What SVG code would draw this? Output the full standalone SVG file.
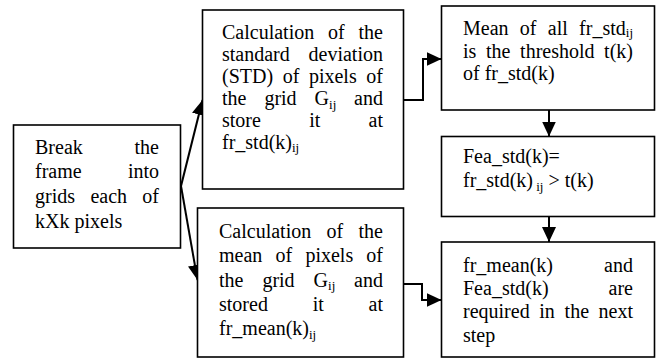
<svg xmlns="http://www.w3.org/2000/svg" width="657" height="359" viewBox="0 0 657 359">
<style>
.box{fill:#fff;stroke:#000;stroke-width:1.6}
text{font-family:'Liberation Serif','Times New Roman',Times,serif;font-size:20px;fill:#000}
.e{text-anchor:end}
.sub{font-size:13px}
.c{fill:none;stroke:#000;stroke-width:2;marker-end:url(#ah)}
</style>
<defs>
<marker id="ah" markerUnits="userSpaceOnUse" markerWidth="17" markerHeight="16" refX="15" refY="7" orient="auto">
<path d="M0,0 L15,7 L0,14 z" fill="#000"/>
</marker>
</defs>
<rect width="657" height="359" fill="#fff"/>
<g id="connectors">
<path class="c" d="M181,186 L202.5,100"/>
<path class="c" d="M181,186 L197.5,280"/>
<path class="c" d="M403.5,100 H423 V59 H441.5"/>
<path class="c" d="M403.5,284 H422 V300 H441.5"/>
<path class="c" d="M549,110 V136.5"/>
<path class="c" d="M549,216.5 V242"/>
</g>
<g id="n1">
<rect class="box" x="13.5" y="125" width="167" height="123"/>
<text x="35" y="153.5">Break</text><text class="e" x="159" y="153.5">the</text>
<text x="35" y="178.3">frame</text><text class="e" x="159" y="178.3">into</text>
<text x="35" y="203.1">grids</text><text x="90.4" y="203.1">each</text><text class="e" x="159" y="203.1">of</text>
<text x="35" y="227.9">kXk pixels</text>
</g>
<g id="n2">
<rect class="box" x="202.5" y="10" width="201" height="179"/>
<text x="222" y="39.3">Calculation</text><text x="328" y="39.3">of</text><text class="e" x="383" y="39.3">the</text>
<text x="222" y="61.2">standard</text><text class="e" x="383" y="61.2">deviation</text>
<text x="222" y="83.1">(STD)</text><text x="282.7" y="83.1">of</text><text x="308.9" y="83.1">pixels</text><text class="e" x="383" y="83.1">of</text>
<text x="222" y="105">the</text><text x="264.4" y="105">grid</text><text x="314.6" y="105">G<tspan class="sub" dy="3.5">ij</tspan></text><text class="e" x="383" y="105">and</text>
<text x="222" y="126.9">store</text><text x="309.2" y="126.9">it</text><text class="e" x="383" y="126.9">at</text>
<text x="222" y="148.8">fr_std(k)<tspan class="sub" dy="3.5">ij</tspan></text>
</g>
<g id="n3">
<rect class="box" x="197.5" y="208" width="206" height="149"/>
<text x="219" y="238">Calculation</text><text x="326.5" y="238">of</text><text class="e" x="383" y="238">the</text>
<text x="219" y="262.3">mean</text><text x="275.5" y="262.3">of</text><text x="305.4" y="262.3">pixels</text><text class="e" x="383" y="262.3">of</text>
<text x="219" y="286.6">the</text><text x="262.4" y="286.6">grid</text><text x="313.6" y="286.6">G<tspan class="sub" dy="3.5">ij</tspan></text><text class="e" x="383" y="286.6">and</text>
<text x="219" y="310.9">stored</text><text x="312.7" y="310.9">it</text><text class="e" x="383" y="310.9">at</text>
<text x="219" y="335.2">fr_mean(k)<tspan class="sub" dy="3.5">ij</tspan></text>
</g>
<g id="n4">
<rect class="box" x="441.5" y="6" width="213" height="104"/>
<text x="463" y="35">Mean</text><text x="519.8" y="35">of</text><text x="547.8" y="35">all</text><text class="e" x="633" y="35">fr_std<tspan class="sub" dy="2">ij</tspan></text>
<text x="463" y="57.5">is</text><text x="486" y="57.5">the</text><text x="520.1" y="57.5">threshold</text><text class="e" x="633" y="57.5">t(k)</text>
<text x="463" y="79.5">of fr_std(k)</text>
</g>
<g id="n5">
<rect class="box" x="441.5" y="136.5" width="213" height="80"/>
<text x="463" y="163">Fea_std(k)=</text>
<text x="463" y="187">fr_std(k)<tspan class="sub" dy="3.5"> ij</tspan><tspan dy="-3.5"> &gt; t(k)</tspan></text>
</g>
<g id="n6">
<rect class="box" x="441.5" y="242" width="213" height="115"/>
<text x="463" y="271.7">fr_mean(k)</text><text class="e" x="633" y="271.7">and</text>
<text x="463" y="295">Fea_std(k)</text><text class="e" x="633" y="295">are</text>
<text x="463" y="318.3">required</text><text x="539.3" y="318.3">in</text><text x="564.6" y="318.3">the</text><text class="e" x="633" y="318.3">next</text>
<text x="463" y="341.6">step</text>
</g>
</svg>
